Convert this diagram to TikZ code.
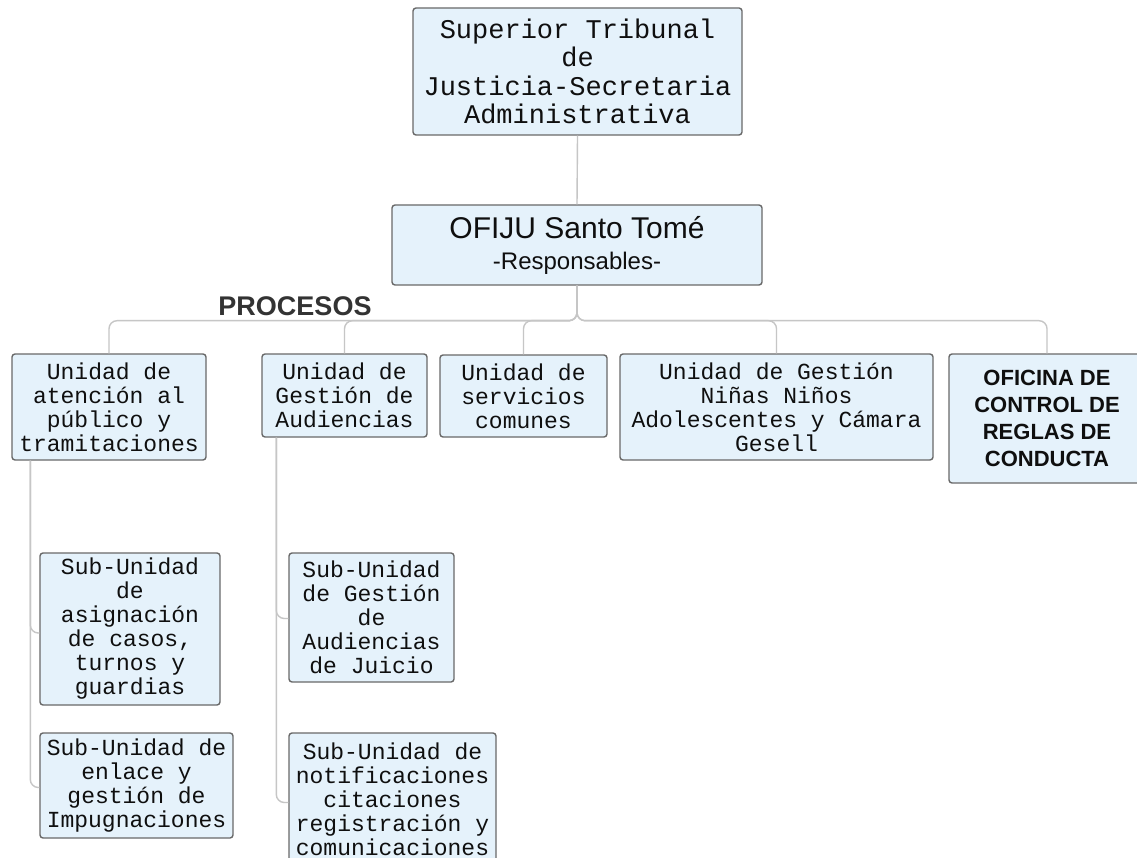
\documentclass[tikz,border=0pt]{standalone}
\usepackage{fontspec}
\setsansfont{Liberation Sans}
\newfontfamily\monof{Liberation Mono}
\definecolor{boxfill}{RGB}{229,242,251}
\definecolor{boxdraw}{RGB}{105,105,105}
\definecolor{connc}{RGB}{198,198,198}
\definecolor{txt}{RGB}{15,15,15}
\tikzset{
  box/.style={draw=boxdraw, fill=boxfill, line width=1.4pt, rounded corners=3pt,
    inner sep=0pt, align=center, text=txt},
  monotxt/.style={font=\monof\fontsize{23}{24}\selectfont},
  conn/.style={draw=connc, line width=1.4pt, rounded corners=8pt},
}
\begin{document}
\begin{tikzpicture}[x=1pt,y=-1pt]
\useasboundingbox (0,0) rectangle (1137,858);
\fill[white] (0,0) rectangle (1137,858);

% top
\node[box, minimum width=329, minimum height=127, font=\monof\fontsize{27}{28.3}\selectfont]
  (top) at (577.5,71.5) {Superior Tribunal\\de\\Justicia-Secretaria\\Administrativa};
\node[box, minimum width=370, minimum height=80, font=\sffamily\fontsize{30}{30}\selectfont]
  (ofiju) at (577,245) {OFIJU Santo Tomé\\[1pt]{\fontsize{24}{29}\selectfont -Responsables-}};

\node[font=\sffamily\bfseries\fontsize{27}{27}\selectfont, text=txt!85!white, anchor=base, inner sep=0pt]
  (procesos) at (295,316) {PROCESOS};

% level 2
\node[box, monotxt, minimum width=194, minimum height=106] (box1) at (109,407)
  {Unidad de\\atención al\\público y\\tramitaciones};
\node[box, monotxt, minimum width=165, minimum height=83] (box2) at (344.5,395.5)
  {Unidad de\\Gestión de\\Audiencias};
\node[box, monotxt, minimum width=167, minimum height=82] (box3) at (523.5,396)
  {Unidad de\\servicios\\comunes};
\node[box, monotxt, minimum width=313, minimum height=106] (box4) at (776.5,407)
  {Unidad de Gestión\\Niñas Niños\\Adolescentes y Cámara\\Gesell};
\node[box, minimum width=196, minimum height=129, font=\sffamily\bfseries\fontsize{22}{27}\selectfont]
  (box5) at (1047,418.5) {OFICINA DE\\CONTROL DE\\REGLAS DE\\CONDUCTA};

% level 3
\node[box, monotxt, minimum width=180, minimum height=152] (sub1) at (130,629)
  {Sub-Unidad\\de\\asignación\\de casos,\\turnos y\\guardias};
\node[box, monotxt, minimum width=193, minimum height=105] (sub2) at (136.5,785.5)
  {Sub-Unidad de\\enlace y\\gestión de\\Impugnaciones};
\node[box, monotxt, minimum width=165, minimum height=129] (sub3) at (371.5,617.5)
  {Sub-Unidad\\de Gestión\\de\\Audiencias\\de Juicio};
\node[box, monotxt, minimum width=207, minimum height=133] (sub4) at (392.5,799.5)
  {Sub-Unidad de\\notificaciones\\citaciones\\registración y\\comunicaciones};

% connectors
\draw[conn] (top.south) -- (ofiju.north);
\foreach \b in {box1,box2,box3,box4,box5}
  \draw[conn] (ofiju.south) -- ++(0,35) -| (\b.north);
\draw[conn] ([xshift=19pt]box1.south west) |- ([yshift=-4pt]sub1.west);
\draw[conn] ([xshift=19pt]box1.south west) |- ([yshift=-2pt]sub2.west);
\draw[conn] ([xshift=15pt]box2.south west) |- ([yshift=-1pt]sub3.west);
\draw[conn] ([xshift=15pt]box2.south west) |- ([yshift=-3pt]sub4.west);
\end{tikzpicture}
\end{document}
